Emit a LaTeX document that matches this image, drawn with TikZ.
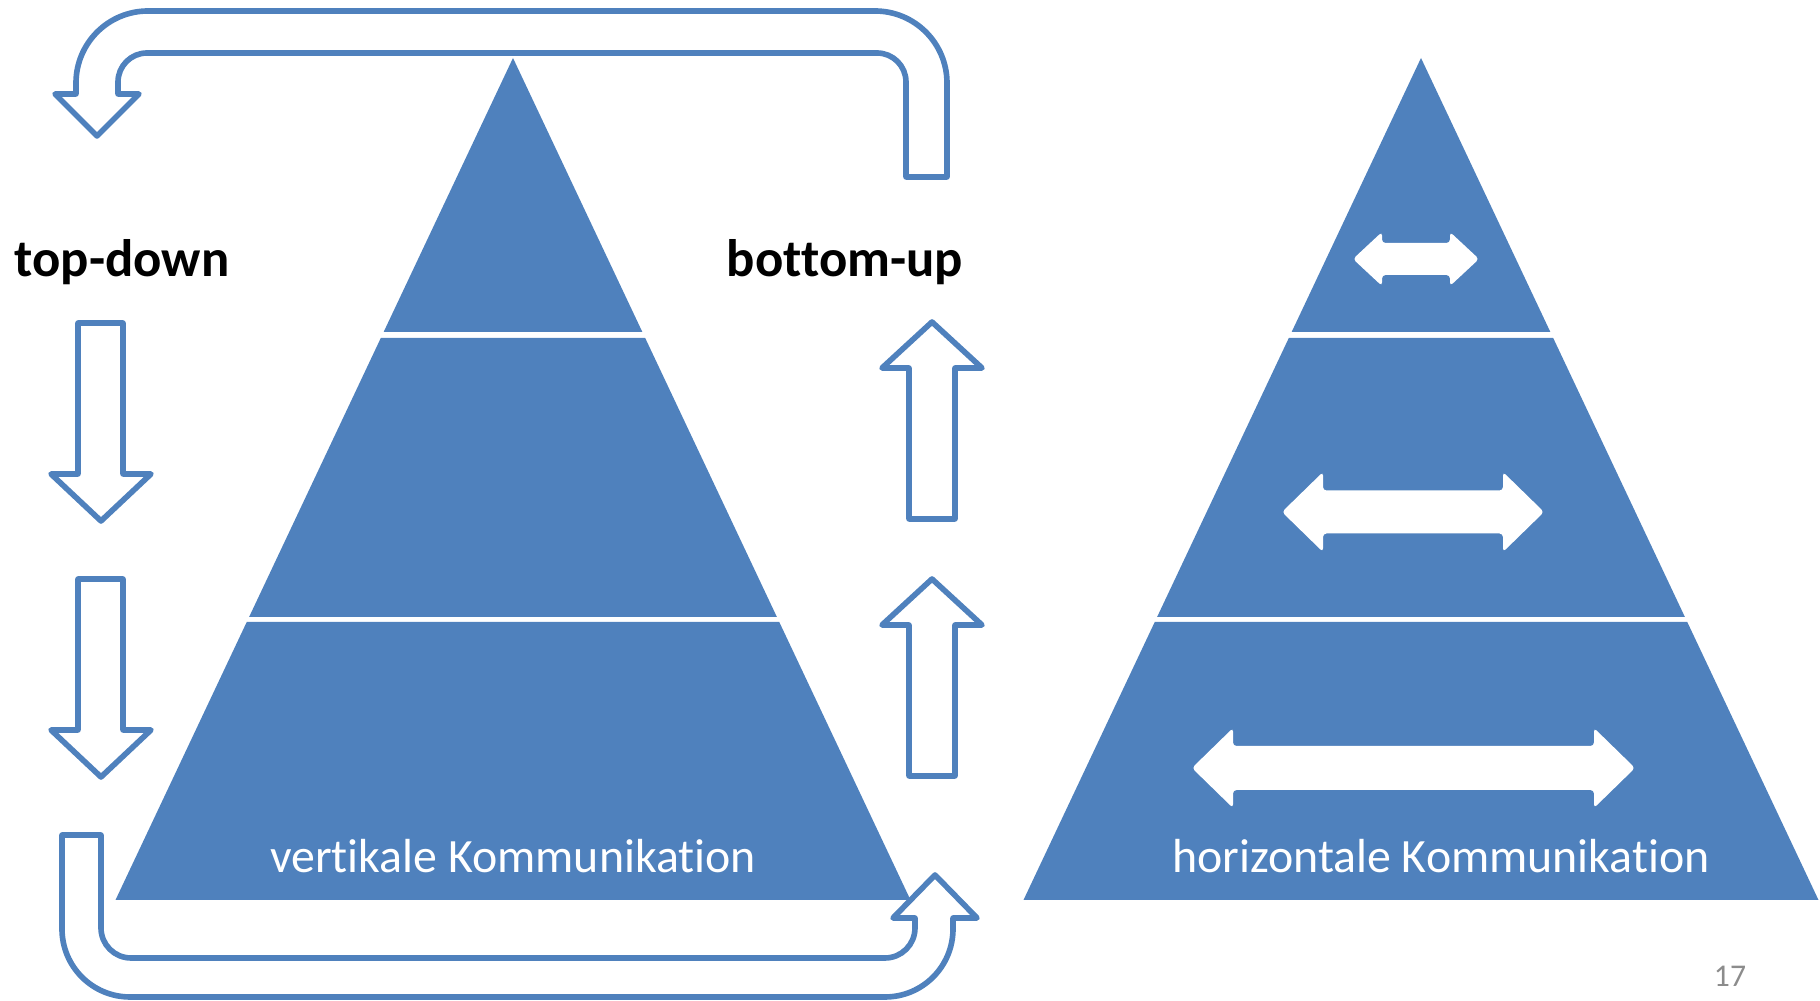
\documentclass[tikz,border=0pt]{standalone}
\usepackage{fontspec}
\setmainfont{Carlito}[Ligatures=NoCommon]
\definecolor{pyrblue}{HTML}{4F81BD}
\definecolor{pagegray}{HTML}{8C8C8C}

\begin{document}
\begin{tikzpicture}[x=0.01cm, y=-0.01cm,
    layer/.style={fill=pyrblue},
    hollow/.style={draw=pyrblue, line width=1.6pt, line join=round, fill=white},
    flatarrow/.style={fill=white, rounded corners=1pt},
    dirlabel/.style={font=\bfseries\fontsize{15}{18}\selectfont, anchor=base, inner sep=0pt},
    pyrlabel/.style={text=white, font=\fontsize{13.6}{16}\selectfont, anchor=base, inner sep=0pt}
]
    \useasboundingbox (0,0) rectangle (1820,1001);

    % the two pyramids, three layers each
    \foreach \px in {513,1421} {
        \begin{scope}[shift={(\px,0)}]
            \fill[layer] (0,58) -- (129.35,332) -- (-129.35,332) -- cycle;
            \fill[layer] (-132.19,338) -- (132.19,338) -- (263.9,617) -- (-263.9,617) -- cycle;
            \fill[layer] (-266.26,622) -- (266.26,622) -- (397.5,900) -- (-397.5,900) -- cycle;
        \end{scope}
    }

    \node[pyrlabel] (vert) at (513,873) {vertikale Kommunikation};
    \node[pyrlabel] (horiz) at (1441,873) {horizontale Kommunikation};

    \node[dirlabel] (topdown) at (122,277) {top-down};
    \node[dirlabel] (bottomup) at (845,277) {bottom-up};

    % top-down arrows
    \foreach \dy in {0,256} {
        \draw[hollow] (78,{323+\dy}) -- (123,{323+\dy}) -- (123,{474+\dy}) -- (151,{474+\dy})
            -- (101,{521+\dy}) -- (51,{474+\dy}) -- (78,{474+\dy}) -- cycle;
    }

    % bottom-up arrows
    \foreach \dy in {0,257} {
        \draw[hollow] (909,{519+\dy}) -- (909,{368+\dy}) -- (882,{368+\dy}) -- (932,{322+\dy})
            -- (982,{368+\dy}) -- (955,{368+\dy}) -- (955,{519+\dy}) -- cycle;
    }

    % upper u-turn arrow
    \draw[hollow] (947,177) -- (906,177) -- (906,82) arc[start angle=0, end angle=-90, radius=29]
        -- (147,53) arc[start angle=-90, end angle=-180, radius=29]
        -- (118,94) -- (139,94) -- (97,136) -- (55,94) -- (76,94)
        -- (76,83) arc[start angle=180, end angle=270, radius=72]
        -- (875,11) arc[start angle=-90, end angle=0, radius=72] -- cycle;

    % lower u-turn arrow
    \draw[hollow] (62,835) -- (101,835) -- (101,928) arc[start angle=180, end angle=90, radius=30]
        -- (885,958) arc[start angle=90, end angle=0, radius=30]
        -- (915,918) -- (893,918) -- (935,875) -- (977,918) -- (953,918)
        -- (953,929) arc[start angle=0, end angle=90, radius=68]
        -- (130,997) arc[start angle=90, end angle=180, radius=68] -- cycle;

    % horizontal arrows in the right pyramid
    \foreach \xl/\xr/\yc/\hl/\hh/\sh in {1353/1479/259/29/27/16, 1282/1544/512/41/40/21.5, 1192/1635/768/41/40/22} {
        \fill[flatarrow] (\xl,\yc) -- ({\xl+\hl},{\yc-\hh}) -- ({\xl+\hl},{\yc-\sh}) -- ({\xr-\hl},{\yc-\sh})
            -- ({\xr-\hl},{\yc-\hh}) -- (\xr,\yc) -- ({\xr-\hl},{\yc+\hh}) -- ({\xr-\hl},{\yc+\sh})
            -- ({\xl+\hl},{\yc+\sh}) -- ({\xl+\hl},{\yc+\hh}) -- cycle;
    }

    \node[text=pagegray, font=\fontsize{9}{11}\selectfont, anchor=base, inner sep=0pt] (pageno) at (1730,987) {17};
\end{tikzpicture}
\end{document}
